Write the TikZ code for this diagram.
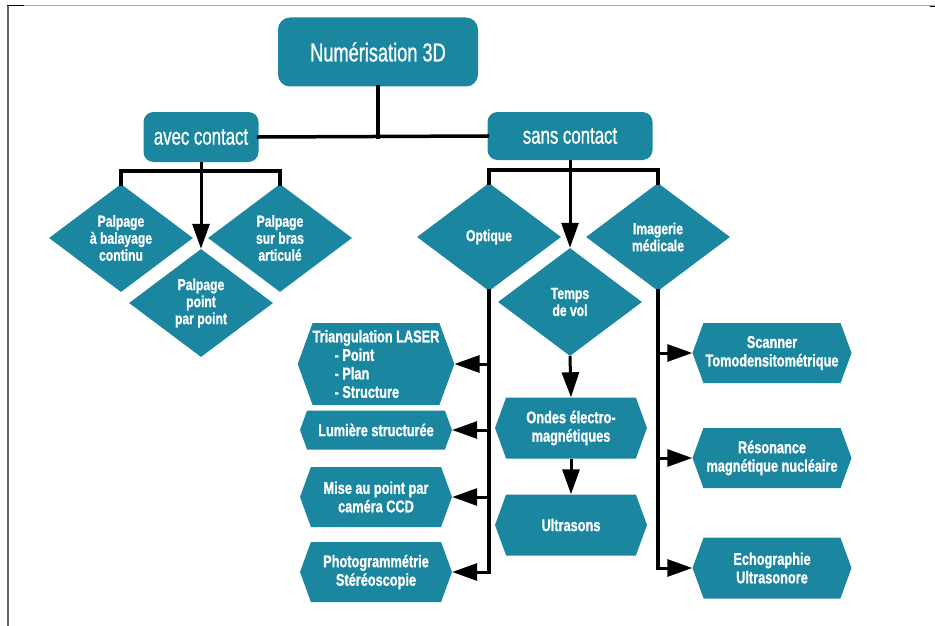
\documentclass[tikz,border=0pt]{standalone}
\usepackage{fontspec}
\setmainfont{Liberation Sans}
\newfontfamily\titlefont[FakeStretch=0.7,FakeBold=0.8]{Liberation Sans}
\newfontfamily\diafont[FakeStretch=0.76,FakeBold=1]{Liberation Sans Bold}
\newfontfamily\hexfont[FakeStretch=0.75,FakeBold=1]{Liberation Sans Bold}
\usetikzlibrary{shapes.geometric,shapes.symbols,arrows.meta}
\definecolor{teal1}{HTML}{1A86A0}
\begin{document}
\begin{tikzpicture}[x=1pt,y=-1pt,
  topbox/.style={rectangle, rounded corners=12pt, fill=teal1, text=white, inner sep=0pt,
    font=\titlefont\fontsize{26}{29}\selectfont},
  catbox/.style={rectangle, rounded corners=10pt, fill=teal1, text=white, inner sep=0pt,
    font=\titlefont\fontsize{24}{27}\selectfont},
  dia/.style={diamond, fill=teal1, text=white, inner sep=0pt, minimum width=144pt,
    minimum height=108pt, align=center, font=\diafont\fontsize{16}{17}\selectfont},
  hexa/.style={signal, signal to=east and west, signal pointer angle=140, fill=teal1,
    text=white, inner sep=0pt, minimum width=152pt, align=center,
    font=\hexfont\fontsize{17}{18.5}\selectfont},
  conn/.style={line width=3.5pt, line cap=rect},
  arr/.style={line width=3pt, -{Triangle[length=25pt,width=17pt]}}
]
\useasboundingbox (0,0) rectangle (935,626);
% frame
\draw[black!35, line width=1pt] (7,6) -- (935,6);
\draw[black!60, line width=2pt] (8,6) -- (8,626);
\draw[black, line width=1pt] (7,6) -- (24,6);
\draw[black, line width=1pt] (930,6.5) -- (935,6.5);

% top level
\node[topbox, minimum width=200pt, minimum height=69pt] (num) at (378,52) {Numérisation 3D};
\node[catbox, minimum width=115pt, minimum height=50pt] (avec) at (201,137) {avec contact};
\node[catbox, minimum width=165pt, minimum height=48pt] (sans) at (570,136) {sans contact};

% left diamonds
\node[dia] (pb) at (121,238) {Palpage\\à balayage\\continu};
\node[dia] (pa) at (280,238) {Palpage\\sur bras\\articulé};
\node[dia] (pp) at (201,303) {Palpage\\point\\par point};

% right diamonds
\node[dia] (opt) at (489,237) {Optique};
\node[dia] (img) at (658,237) {Imagerie\\médicale};
\node[dia] (tv) at (570,302) {Temps\\de vol};

% optique hexagons
\node[hexa, minimum height=82pt, align=left] (tri) at (376,364)
  {Triangulation LASER\\\hspace*{22pt}- Point\\\hspace*{22pt}- Plan\\\hspace*{22pt}- Structure};
\node[hexa, minimum height=39pt] (lum) at (376,430) {Lumière structurée};
\node[hexa, minimum height=60pt] (ccd) at (376,497) {Mise au point par\\caméra CCD};
\node[hexa, minimum height=60pt] (ph) at (376,572) {Photogrammétrie\\Stéréoscopie};

% temps de vol hexagons
\node[hexa, minimum height=61pt] (ondes) at (571,428) {Ondes électro-\\magnétiques};
\node[hexa, minimum height=61pt] (ultra) at (571,525) {Ultrasons};

% imagerie hexagons
\node[hexa, minimum width=159pt, minimum height=60pt] (scan) at (772,353) {Scanner\\Tomodensitométrique};
\node[hexa, minimum width=159pt, minimum height=60pt] (rmn) at (772,458) {Résonance\\magnétique nucléaire};
\node[hexa, minimum width=159pt, minimum height=61pt] (echo) at (772,568) {Echographie\\Ultrasonore};

% connectors
\coordinate (busL) at (0,171);
\coordinate (busR) at (0,170);
\draw[conn] (num.south) -- (num.south |- avec.east);
\draw[conn] (avec.east) -- (sans.west);
\draw[conn] (pb.north) -- (pb.north |- busL) -- (pa.north |- busL) -- (pa.north);
\draw[arr] (avec.south) -- (pp.north);
\draw[conn] (opt.north) -- (opt.north |- busR) -- (img.north |- busR) -- (img.north);
\draw[arr] (sans.south) -- (tv.north);

\draw[conn] (opt.south) -- (opt.south |- ph.east);
\draw[arr] (opt.south |- tri.east) -- (tri.east);
\draw[arr] (opt.south |- lum.east) -- (lum.east);
\draw[arr] (opt.south |- ccd.east) -- (ccd.east);
\draw[arr] (opt.south |- ph.east) -- (ph.east);

\draw[arr] (tv.south) -- (ondes.north);
\draw[arr] (ondes.south) -- (ultra.north);

\draw[conn] (img.south) -- (img.south |- echo.west);
\draw[arr] (img.south |- scan.west) -- (scan.west);
\draw[arr] (img.south |- rmn.west) -- (rmn.west);
\draw[arr] (img.south |- echo.west) -- (echo.west);
\end{tikzpicture}
\end{document}
